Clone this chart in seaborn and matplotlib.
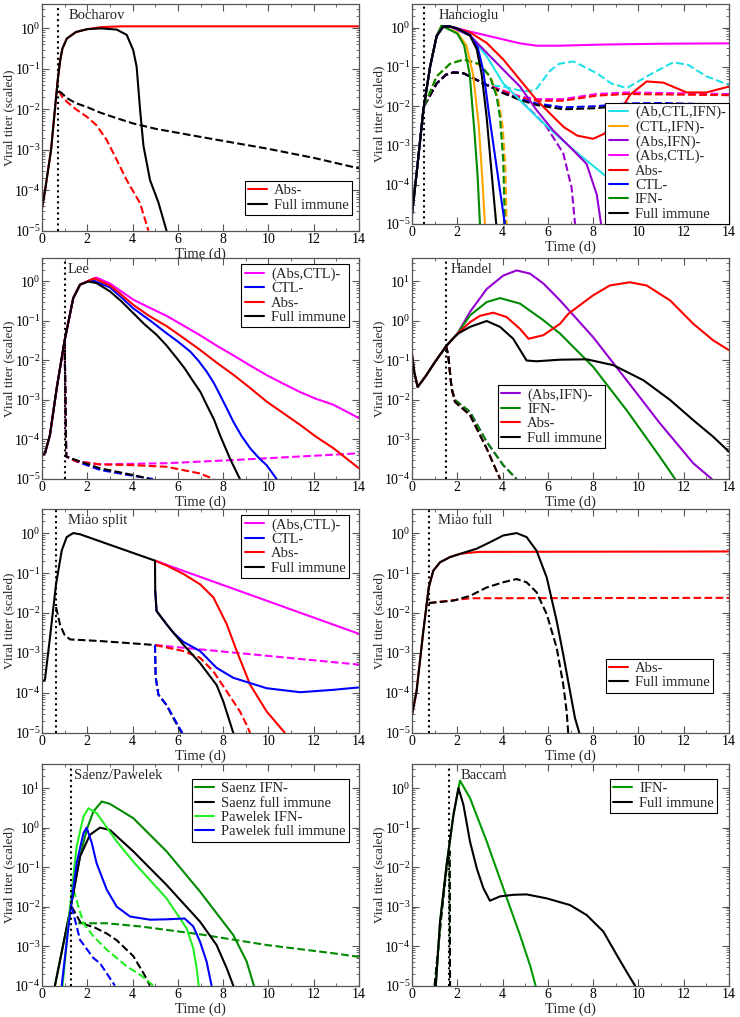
import numpy as np
import matplotlib
matplotlib.use("Agg")
import matplotlib.pyplot as plt
from matplotlib.ticker import MultipleLocator, LogLocator, NullFormatter
from matplotlib.lines import Line2D
import seaborn as sns

# ---------------- data (values are log10 of scaled viral titer) ----------------
# Bocharov
boch_full_t = [0, 0.15, 0.4, 0.69, 0.8, 0.9, 1.1, 1.5, 2.0, 2.6, 3.3, 3.74, 4.03, 4.18, 4.33, 4.48, 4.77, 5.14, 5.5]
boch_full_v = [-4.45, -3.95, -3.0, -1.3, -0.8, -0.5, -0.25, -0.09, -0.02, 0.0, -0.03, -0.16, -0.54, -0.95, -2.0, -2.9, -3.75, -4.3, -5.0]
boch_abs_t = [0, 0.15, 0.4, 0.69, 0.8, 0.9, 1.1, 1.5, 2.0, 2.6, 3.5, 14]
boch_abs_v = [-4.45, -3.95, -3.0, -1.3, -0.8, -0.5, -0.25, -0.09, -0.02, 0.03, 0.05, 0.05]
boch_full_dt = [0.75, 0.87, 1.09, 1.5, 1.97, 2.56, 3.3, 4.03, 5.0, 6.98, 8.5, 9.93, 12.0, 14]
boch_full_dv = [-1.55, -1.6, -1.72, -1.85, -1.94, -2.08, -2.22, -2.35, -2.48, -2.68, -2.83, -2.97, -3.2, -3.46]
boch_abs_dt = [0.75, 0.9, 1.09, 1.5, 1.97, 2.4, 2.86, 3.3, 3.74, 4.33, 4.7]
boch_abs_dv = [-1.55, -1.7, -1.81, -2.0, -2.18, -2.39, -2.76, -3.25, -3.75, -4.32, -5.0]

# Hancioglu
han_rise_t = [0, 0.2, 0.5, 0.8, 1.09, 1.38, 1.68]
han_rise_v = [-4.75, -3.73, -2.1, -0.99, -0.21, 0.03, 0.03]
han_full_t = [2.0, 2.56, 2.86, 3.08, 3.3, 3.5, 3.72]
han_full_v = [-0.02, -0.2, -0.55, -1.2, -2.3, -3.6, -5.0]
han_ctl_t = [2.0, 2.56, 2.9, 3.15, 3.4, 3.7, 4.1]
han_ctl_v = [-0.02, -0.18, -0.5, -1.1, -2.2, -3.4, -5.0]
han_ifn_t = [1.3, 2.0, 2.3, 2.55, 2.75, 2.9, 3.0]
han_ifn_v = [0.05, -0.15, -0.45, -1.2, -2.6, -3.8, -5.0]
han_ctlifn_t = [1.3, 2.0, 2.4, 2.7, 2.95, 3.1, 3.22]
han_ctlifn_v = [0.04, -0.12, -0.45, -1.2, -2.5, -3.8, -5.0]
han_all_t = [2.56, 3.3, 4.03, 5.5, 6.98, 8.45, 9.92, 10.66, 11.1]
han_all_v = [-0.2, -0.73, -1.42, -2.27, -3.04, -3.73, -4.42, -4.76, -5.0]
han_abs_t = [2.56, 3.3, 4.03, 4.77, 5.5, 6.24, 6.7, 7.3, 8.0, 8.5, 9.04, 9.63, 10.36, 11.1, 12.13, 13.0, 14]
han_abs_v = [-0.12, -0.39, -0.81, -1.33, -1.84, -2.27, -2.53, -2.75, -2.83, -2.7, -2.27, -1.71, -1.37, -1.4, -1.65, -1.65, -1.5]
han_absctl_t = [2.56, 3.3, 4.03, 4.77, 5.5, 6.5, 8.45, 11.0, 14]
han_absctl_v = [-0.1, -0.2, -0.3, -0.4, -0.46, -0.46, -0.43, -0.41, -0.4]
han_absifn_t = [2.56, 3.3, 4.03, 4.77, 5.5, 6.24, 6.98, 7.71, 8.16, 8.35]
han_absifn_v = [-0.2, -0.64, -1.07, -1.5, -2.1, -2.62, -3.04, -3.47, -4.25, -5.0]
han_d_early_t = [0.53, 1.09, 1.5, 1.83, 2.27, 3.3]
han_d_early_v = [-2.0, -1.42, -1.2, -1.14, -1.16, -1.46]
han_full_dt = [4.03, 4.77, 5.5, 6.68, 8.16, 9.48, 11.0, 14]
han_full_dv = [-1.67, -1.84, -1.97, -2.08, -2.05, -1.97, -1.95, -2.0]
han_ctl_dt = [4.03, 4.77, 5.5, 6.68, 8.16, 9.48, 11.0, 14]
han_ctl_dv = [-1.66, -1.82, -1.93, -2.03, -2.0, -1.93, -1.92, -1.96]
han_absctl_dt = [4.03, 4.77, 5.5, 6.68, 8.16, 9.5, 14]
han_absctl_dv = [-1.6, -1.75, -1.82, -1.82, -1.69, -1.65, -1.69]
han_abs_dt = [4.03, 4.77, 5.5, 6.68, 8.16, 9.5, 14]
han_abs_dv = [-1.62, -1.78, -1.86, -1.86, -1.73, -1.69, -1.72]
han_absifn_dt = [4.03, 4.77, 5.5, 5.95, 6.68, 7.05, 7.2]
han_absifn_dv = [-1.62, -1.85, -2.25, -2.53, -3.2, -4.08, -5.0]
han_all_dt = [4.03, 4.77, 5.2, 5.51, 6.09, 6.5, 7.13, 8.16, 8.8, 9.48, 10.5, 11.54, 12.2, 13.0, 14]
han_all_dv = [-1.5, -1.6, -1.62, -1.55, -1.1, -0.92, -0.86, -1.16, -1.42, -1.54, -1.2, -0.88, -0.95, -1.24, -1.46]
han_ifn_dt = [0.53, 1.09, 1.68, 2.3, 3.0, 3.44, 3.74, 3.89, 4.03, 4.1]
han_ifn_dv = [-2.0, -1.24, -0.92, -0.81, -0.93, -1.24, -1.76, -2.3, -3.39, -5.0]
han_ctlifn_dt = [0.53, 1.09, 1.68, 2.3, 3.0, 3.5, 3.8, 4.0, 4.12, 4.18]
han_ctlifn_dv = [-2.0, -1.24, -0.92, -0.81, -0.95, -1.3, -1.8, -2.5, -3.5, -5.0]

# Lee
lee_rise_t = [0, 0.13, 0.35, 0.65, 0.99, 1.38, 1.68]
lee_rise_v = [-4.39, -4.35, -3.89, -2.7, -1.52, -0.42, -0.08]
lee_full_t = [2.05, 2.41, 3.0, 3.5, 4.03, 4.5, 5.06, 5.5, 5.95, 6.3, 6.68, 7.0, 7.27, 7.6, 7.86, 8.3, 8.74]
lee_full_v = [0.0, -0.04, -0.25, -0.5, -0.8, -1.07, -1.35, -1.62, -1.94, -2.2, -2.53, -2.8, -3.12, -3.5, -3.89, -4.48, -5.0]
lee_ctl_t = [2.2, 3.0, 3.5, 4.03, 4.8, 5.5, 6.0, 6.54, 6.9, 7.27, 7.6, 7.86, 8.15, 8.45, 8.8, 9.19, 9.6, 9.92, 10.36]
lee_ctl_v = [0.04, -0.15, -0.4, -0.68, -1.0, -1.31, -1.52, -1.77, -2.0, -2.28, -2.58, -2.87, -3.2, -3.55, -3.9, -4.22, -4.48, -4.65, -5.0]
lee_abs_t = [2.3, 3.0, 3.5, 4.03, 4.7, 5.5, 6.2, 6.98, 7.7, 8.45, 9.2, 9.92, 10.7, 11.4, 12.1, 12.87, 14]
lee_abs_v = [0.08, -0.1, -0.33, -0.59, -0.86, -1.13, -1.41, -1.73, -2.05, -2.36, -2.7, -3.04, -3.35, -3.63, -3.93, -4.22, -4.73]
lee_absctl_t = [2.4, 3.0, 3.5, 4.03, 4.7, 5.5, 6.2, 6.98, 7.7, 8.45, 9.2, 9.92, 10.7, 11.4, 12.1, 12.87, 14]
lee_absctl_v = [0.1, -0.05, -0.25, -0.46, -0.65, -0.87, -1.1, -1.36, -1.62, -1.87, -2.13, -2.37, -2.6, -2.8, -2.97, -3.12, -3.46]
lee_absctl_dt = [1.0, 1.07, 1.5, 2.56, 5.5, 8.45, 11.4, 14]
lee_absctl_dv = [-1.52, -4.43, -4.55, -4.63, -4.6, -4.52, -4.43, -4.35]
lee_abs_dt = [1.0, 1.07, 1.5, 2.56, 4.03, 5.5, 6.98, 7.57]
lee_abs_dv = [-1.52, -4.43, -4.55, -4.63, -4.65, -4.69, -4.86, -5.0]
lee_full_dt = [1.0, 1.07, 1.5, 2.56, 4.03, 4.77]
lee_full_dv = [-1.52, -4.43, -4.52, -4.73, -4.9, -5.0]
lee_ctl_dt = [1.0, 1.07, 1.5, 2.56, 4.03, 4.9]
lee_ctl_dv = [-1.52, -4.43, -4.55, -4.77, -4.92, -5.0]

# Handel
hdl_rise_t = [0, 0.1, 0.25, 0.6, 1.0, 1.53, 2.0]
hdl_rise_v = [-0.85, -1.3, -1.67, -1.4, -1.05, -0.62, -0.33]
hdl_full_t = [2.56, 3.3, 3.89, 4.47, 5.06, 5.5, 6.54, 7.72, 8.9, 10.22, 11.4, 12.42, 13.3, 14]
hdl_full_v = [-0.15, 0.0, -0.15, -0.45, -1.0, -1.02, -0.98, -0.97, -1.12, -1.5, -2.0, -2.51, -2.93, -3.31]
hdl_abs_t = [2.56, 3.0, 3.59, 4.18, 4.77, 5.15, 5.8, 6.54, 6.9, 8.0, 8.74, 9.62, 10.36, 11.4, 12.42, 13.3, 14]
hdl_abs_v = [-0.03, 0.13, 0.21, 0.1, -0.2, -0.45, -0.36, -0.07, 0.18, 0.65, 0.9, 0.98, 0.9, 0.52, -0.07, -0.49, -0.74]
hdl_ifn_t = [2.56, 3.3, 3.89, 4.77, 5.8, 6.54, 8.0, 9.48, 10.95, 11.62]
hdl_ifn_v = [0.14, 0.48, 0.58, 0.44, 0.02, -0.32, -1.16, -2.26, -3.44, -4.0]
hdl_absifn_t = [2.56, 3.3, 4.03, 4.62, 5.21, 5.8, 6.54, 8.0, 9.48, 10.95, 12.42, 13.24]
hdl_absifn_v = [0.23, 0.81, 1.15, 1.28, 1.2, 0.95, 0.52, -0.41, -1.5, -2.59, -3.6, -4.0]
hdl_full_dt = [1.5, 1.6, 1.75, 1.9, 2.56, 3.3, 3.89]
hdl_full_dv = [-0.62, -0.87, -1.71, -2.05, -2.38, -3.23, -4.0]
hdl_ifn_dt = [1.5, 1.6, 1.75, 1.9, 2.56, 3.3, 4.03, 4.62]
hdl_ifn_dv = [-0.62, -0.87, -1.71, -2.0, -2.3, -3.06, -3.65, -4.0]

# Miao split
ms_full_t = [0, 0.13, 0.35, 0.62, 0.87, 1.09, 1.38, 1.68, 4.99, 5.0, 5.06, 5.5, 5.8, 6.24, 6.98, 7.71, 8.0, 8.45]
ms_full_v = [-3.71, -3.67, -2.62, -1.28, -0.44, -0.1, 0.0, -0.03, -0.69, -1.44, -1.95, -2.28, -2.49, -2.79, -3.25, -3.8, -4.2, -5.0]
ms_abs_t = [4.99, 5.5, 6.24, 6.98, 7.57, 8.16, 8.6, 9.19, 9.92, 10.73]
ms_abs_v = [-0.69, -0.81, -1.02, -1.28, -1.61, -2.28, -2.95, -3.79, -4.46, -5.0]
ms_absctl_t = [4.99, 14]
ms_absctl_v = [-0.69, -2.52]
ms_ctl_t = [5.0, 5.06, 5.5, 5.8, 6.24, 6.98, 7.71, 8.45, 9.92, 11.4, 12.87, 14]
ms_ctl_v = [-1.44, -1.95, -2.28, -2.49, -2.72, -2.95, -3.37, -3.62, -3.88, -3.98, -3.92, -3.86]
ms_full_dt = [0.62, 0.8, 1.0, 1.24, 2.56, 4.03, 4.99, 5.02, 5.14, 5.5, 5.8, 6.17]
ms_full_dv = [-1.85, -2.3, -2.55, -2.66, -2.7, -2.76, -2.8, -3.6, -4.04, -4.3, -4.63, -5.0]
ms_ctl_dt = [4.99, 5.02, 5.14, 5.5, 5.8, 6.2]
ms_ctl_dv = [-2.8, -3.6, -4.04, -4.3, -4.6, -5.0]
ms_absctl_dt = [4.99, 14]
ms_absctl_dv = [-2.8, -3.29]
ms_abs_dt = [4.99, 6.24, 6.98, 7.57, 8.16, 8.74, 9.04, 9.19]
ms_abs_dv = [-2.8, -2.95, -3.12, -3.46, -3.96, -4.46, -4.8, -5.0]

# Miao full
mf_full_t = [0, 0.2, 0.5, 0.74, 0.94, 1.24, 1.68, 2.12, 2.86, 3.44, 4.03, 4.62, 5.06, 5.5, 5.95, 6.39, 6.68, 6.98, 7.2, 7.39]
mf_full_v = [-4.55, -3.96, -2.45, -1.36, -0.94, -0.73, -0.6, -0.52, -0.39, -0.23, -0.06, 0.0, -0.1, -0.44, -1.11, -2.2, -3.04, -3.96, -4.63, -5.0]
mf_abs_t = [0, 0.2, 0.5, 0.74, 0.94, 1.24, 1.68, 2.12, 2.56, 3.0, 14]
mf_abs_v = [-4.55, -3.96, -2.45, -1.36, -0.94, -0.73, -0.6, -0.52, -0.49, -0.47, -0.46]
mf_full_dt = [0.74, 1.83, 2.56, 3.3, 4.03, 4.62, 5.06, 5.5, 5.95, 6.39, 6.68, 6.83, 6.9]
mf_full_dv = [-1.75, -1.69, -1.57, -1.36, -1.23, -1.15, -1.23, -1.48, -2.03, -2.87, -3.79, -4.46, -5.0]
mf_abs_dt = [0.74, 2.56, 14]
mf_abs_dv = [-1.75, -1.63, -1.62]

# Saenz / Pawelek
sp_sfull_t = [0.57, 1.24, 1.68, 2.12, 2.56, 3.0, 4.03, 5.5, 6.98, 7.71, 8.16, 8.45]
sp_sfull_v = [-4.0, -2.1, -0.73, -0.18, 0.0, -0.06, -0.6, -1.45, -2.38, -2.97, -3.56, -4.0]
sp_sifn_t = [0.57, 1.24, 1.68, 1.97, 2.27, 2.64, 3.0, 4.03, 5.5, 6.98, 8.45, 9.04, 9.36]
sp_sifn_v = [-4.0, -2.1, -0.73, -0.06, 0.41, 0.66, 0.6, 0.24, -0.6, -1.62, -2.72, -3.39, -4.0]
sp_pifn_t = [0.91, 1.24, 1.53, 1.83, 2.05, 2.41, 3.3, 4.03, 5.5, 6.39, 6.68, 6.83, 6.92]
sp_pifn_v = [-4.0, -2.0, -0.48, 0.28, 0.49, 0.37, -0.35, -0.86, -1.79, -2.55, -3.05, -3.56, -4.0]
sp_pfull_t = [0.87, 1.24, 1.53, 1.83, 1.97, 2.2, 2.41, 2.86, 3.3, 3.89, 4.77, 5.5, 6.3, 6.68, 6.98, 7.27, 7.49]
sp_pfull_v = [-4.0, -2.16, -0.9, -0.14, 0.0, -0.39, -0.9, -1.57, -2.0, -2.25, -2.33, -2.32, -2.3, -2.5, -2.89, -3.39, -4.0]
sp_sifn_dt = [1.6, 2.86, 4.33, 6.98, 9.92, 12.87, 14]
sp_sifn_dv = [-2.42, -2.42, -2.5, -2.7, -2.97, -3.18, -3.27]
sp_sfull_dt = [1.31, 1.72, 2.3, 2.86, 3.3, 4.03, 4.5, 4.77]
sp_sfull_dv = [-2.0, -2.42, -2.52, -2.68, -2.85, -3.25, -3.7, -4.0]
sp_pifn_dt = [1.39, 1.83, 2.27, 2.86, 3.74, 4.4, 4.92]
sp_pifn_dv = [-1.57, -2.42, -2.75, -3.09, -3.51, -3.75, -4.0]
sp_pfull_dt = [1.31, 1.68, 2.27, 2.56, 3.22]
sp_pfull_dv = [-2.0, -2.84, -3.3, -3.43, -4.0]

# Baccam
bac_full_t = [1.05, 1.24, 1.53, 1.83, 2.05, 2.27, 2.56, 2.86, 3.15, 3.44, 3.89, 4.47, 5.06, 5.95, 6.98, 7.71, 8.45, 9.04, 9.48, 9.85]
bac_full_v = [-5.0, -3.38, -1.94, -0.68, 0.0, -0.42, -1.35, -2.03, -2.53, -2.85, -2.74, -2.7, -2.69, -2.79, -2.96, -3.21, -3.63, -4.22, -4.65, -5.0]
bac_ifn_t = [1.05, 1.24, 1.53, 1.83, 2.12, 2.56, 3.3, 4.03, 4.77, 5.21, 5.46]
bac_ifn_v = [-5.0, -3.38, -1.94, -0.68, 0.19, -0.25, -1.35, -2.53, -3.72, -4.48, -5.0]
bac_d_t = [1.0, 1.3, 1.55, 1.66, 1.68]
bac_d_v = [-5.0, -3.2, -1.9, -1.6, -5.0]

# ---------------- style ----------------
sns.set_theme(style="ticks")
plt.rcParams["font.family"] = ["Liberation Serif", "DejaVu Serif"]
plt.rcParams["mathtext.fontset"] = "custom"
plt.rcParams["mathtext.rm"] = "Liberation Serif"
plt.rcParams["mathtext.default"] = "regular"

RED = "#ff0000"; BLK = "#000000"; BLUE = "#0000ff"; DKGRN = "#008b00"
CYAN = "#20e0e8"; ORNG = "#ffa500"; PURP = "#9400d3"; MAG = "#ff00ff"; LTGRN = "#22ee22"

fig = plt.figure(figsize=(7.4, 10.17), dpi=100)
W, H = 740.0, 1017.0


def make_ax(l, t, r, b, ylim):
    ax = fig.add_axes([l / W, 1 - b / H, (r - l) / W, (b - t) / H])
    ax.set_yscale("log")
    ax.set_xlim(0, 14)
    ax.set_ylim(*ylim)
    ax.xaxis.set_major_locator(MultipleLocator(2))
    ax.xaxis.set_minor_locator(MultipleLocator(1))
    ax.yaxis.set_major_locator(LogLocator(base=10, numticks=20))
    ax.yaxis.set_minor_locator(LogLocator(base=10, subs=np.arange(2, 10), numticks=20))
    ax.yaxis.set_minor_formatter(NullFormatter())
    ax.tick_params(which="both", direction="in", top=True, right=True, labelsize=10,
                   color="#555555", labelcolor="black")
    ax.tick_params(which="major", length=5, width=0.8)
    ax.tick_params(which="minor", length=2.5, width=0.6)
    ax.tick_params(axis="x", pad=1.5)
    ax.tick_params(axis="y", pad=1)
    for s in ax.spines.values():
        s.set_color("#555555")
        s.set_linewidth(0.9)
    ax.set_xlabel("Time (d)", fontsize=10.5, labelpad=1)
    ax.set_ylabel("Viral titer (scaled)", fontsize=9.5)
    ax.yaxis.set_label_coords(-0.085, 0.5)
    return ax


def draw(ax, t, v, color, dashed=False):
    sns.lineplot(x=np.asarray(t, float), y=10.0 ** np.asarray(v, float), ax=ax,
                 color=color, lw=1.5, linestyle="--" if dashed else "-",
                 sort=False, estimator=None, legend=False)


def decorate(ax, vline, name, name_x, entries, **legkw):
    ax.axvline(vline, color="black", ls=":", lw=1.5)
    ax.text(name_x, 0.948, name, transform=ax.get_xaxis_transform(), fontsize=10.5,
            va="center", ha="left")
    handles = [Line2D([], [], color=c, lw=1.5) for _, c in entries]
    leg = ax.legend(handles, [n for n, _ in entries], fontsize=10.5, frameon=True,
                    fancybox=False, edgecolor="black", framealpha=1,
                    handlelength=1.3, handletextpad=0.5, labelspacing=0.08,
                    borderpad=0.22, borderaxespad=0, **legkw)
    leg.get_frame().set_linewidth(0.8)


# ---- Bocharov ----
ax = make_ax(42, 4, 359, 230.7, (1e-5, 4))
draw(ax, boch_abs_dt, boch_abs_dv, RED, True)
draw(ax, boch_full_dt, boch_full_dv, BLK, True)
draw(ax, boch_abs_t, boch_abs_v, RED)
draw(ax, boch_full_t, boch_full_v, BLK)
decorate(ax, 0.69, "Bocharov", 1.16, [("Abs-", RED), ("Full immune", BLK)],
         loc="lower right", bbox_to_anchor=(0.978, 0.07))

# ---- Hancioglu ----
ax = make_ax(412, 4, 729, 224, (1e-5, 4))
for dt, dv, c in [(han_all_dt, han_all_dv, CYAN), (han_absifn_dt, han_absifn_dv, PURP),
                  (han_absctl_dt, han_absctl_dv, MAG), (han_abs_dt, han_abs_dv, RED),
                  (han_ctl_dt, han_ctl_dv, BLUE), (han_full_dt, han_full_dv, BLK)]:
    draw(ax, han_d_early_t + dt, han_d_early_v + dv, c, True)
draw(ax, han_ctlifn_dt, han_ctlifn_dv, ORNG, True)
draw(ax, han_ifn_dt, han_ifn_dv, DKGRN, True)
draw(ax, han_rise_t + han_all_t, han_rise_v + han_all_v, CYAN)
draw(ax, han_rise_t + han_absctl_t, han_rise_v + han_absctl_v, MAG)
draw(ax, han_rise_t + han_abs_t, han_rise_v + han_abs_v, RED)
draw(ax, han_rise_t + han_absifn_t, han_rise_v + han_absifn_v, PURP)
draw(ax, han_rise_t[:5] + han_ctlifn_t, han_rise_v[:5] + han_ctlifn_v, ORNG)
draw(ax, han_rise_t[:5] + han_ifn_t, han_rise_v[:5] + han_ifn_v, DKGRN)
draw(ax, han_rise_t + han_ctl_t, han_rise_v + han_ctl_v, BLUE)
draw(ax, han_rise_t + han_full_t, han_rise_v + han_full_v, BLK)
decorate(ax, 0.53, "Hancioglu", 1.19,
         [("(Ab,CTL,IFN)-", CYAN), ("(CTL,IFN)-", ORNG), ("(Abs,IFN)-", PURP),
          ("(Abs,CTL)-", MAG), ("Abs-", RED), ("CTL-", BLUE), ("IFN-", DKGRN),
          ("Full immune", BLK)],
         loc="lower right", bbox_to_anchor=(1.0, 0.0))

# ---- Lee ----
ax = make_ax(42, 257.7, 359, 479, (1e-5, 4))
draw(ax, lee_absctl_dt, lee_absctl_dv, MAG, True)
draw(ax, lee_ctl_dt, lee_ctl_dv, BLUE, True)
draw(ax, lee_abs_dt, lee_abs_dv, RED, True)
draw(ax, lee_full_dt, lee_full_dv, BLK, True)
draw(ax, lee_rise_t + lee_absctl_t, lee_rise_v + lee_absctl_v, MAG)
draw(ax, lee_rise_t + lee_ctl_t, lee_rise_v + lee_ctl_v, BLUE)
draw(ax, lee_rise_t + lee_abs_t, lee_rise_v + lee_abs_v, RED)
draw(ax, lee_rise_t + lee_full_t, lee_rise_v + lee_full_v, BLK)
decorate(ax, 1.0, "Lee", 1.13,
         [("(Abs,CTL)-", MAG), ("CTL-", BLUE), ("Abs-", RED), ("Full immune", BLK)],
         loc="upper right", bbox_to_anchor=(0.968, 0.97))

# ---- Handel ----
ax = make_ax(412, 257.7, 729, 479, (1e-4, 40))
draw(ax, hdl_ifn_dt, hdl_ifn_dv, PURP, True)
draw(ax, hdl_ifn_dt, hdl_ifn_dv, DKGRN, True)
draw(ax, hdl_full_dt, hdl_full_dv, RED, True)
draw(ax, hdl_full_dt, hdl_full_dv, BLK, True)
draw(ax, hdl_rise_t + hdl_absifn_t, hdl_rise_v + hdl_absifn_v, PURP)
draw(ax, hdl_rise_t + hdl_ifn_t, hdl_rise_v + hdl_ifn_v, DKGRN)
draw(ax, hdl_rise_t + hdl_abs_t, hdl_rise_v + hdl_abs_v, RED)
draw(ax, hdl_rise_t + hdl_full_t, hdl_rise_v + hdl_full_v, BLK)
decorate(ax, 1.5, "Handel", 1.72,
         [("(Abs,IFN)-", PURP), ("IFN-", DKGRN), ("Abs-", RED), ("Full immune", BLK)],
         loc="lower left", bbox_to_anchor=(0.27, 0.14))

# ---- Miao split ----
ax = make_ax(42, 509, 359, 733, (1e-5, 4))
draw(ax, ms_absctl_dt, ms_absctl_dv, MAG, True)
draw(ax, ms_abs_dt, ms_abs_dv, RED, True)
draw(ax, ms_full_dt, ms_full_dv, BLK, True)
draw(ax, ms_ctl_dt, ms_ctl_dv, BLUE, True)
draw(ax, ms_absctl_t, ms_absctl_v, MAG)
draw(ax, ms_abs_t, ms_abs_v, RED)
draw(ax, ms_ctl_t, ms_ctl_v, BLUE)
draw(ax, ms_full_t, ms_full_v, BLK)
decorate(ax, 0.62, "Miao split", 1.16,
         [("(Abs,CTL)-", MAG), ("CTL-", BLUE), ("Abs-", RED), ("Full immune", BLK)],
         loc="upper right", bbox_to_anchor=(0.968, 0.973))

# ---- Miao full ----
ax = make_ax(412, 509, 729, 733, (1e-5, 4))
draw(ax, mf_abs_dt, mf_abs_dv, RED, True)
draw(ax, mf_full_dt, mf_full_dv, BLK, True)
draw(ax, mf_abs_t, mf_abs_v, RED)
draw(ax, mf_full_t, mf_full_v, BLK)
decorate(ax, 0.74, "Miao full", 1.16, [("Abs-", RED), ("Full immune", BLK)],
         loc="lower right", bbox_to_anchor=(0.95, 0.18))

# ---- Saenz / Pawelek ----
ax = make_ax(42, 764.3, 359, 985.7, (1e-4, 40))
draw(ax, sp_sifn_dt, sp_sifn_dv, DKGRN, True)
draw(ax, sp_sfull_dt, sp_sfull_dv, BLK, True)
draw(ax, sp_pifn_dt, sp_pifn_dv, LTGRN, True)
draw(ax, sp_pfull_dt, sp_pfull_dv, BLUE, True)
draw(ax, sp_sifn_t, sp_sifn_v, DKGRN)
draw(ax, sp_sfull_t, sp_sfull_v, BLK)
draw(ax, sp_pifn_t, sp_pifn_v, LTGRN)
draw(ax, sp_pfull_t, sp_pfull_v, BLUE)
decorate(ax, 1.28, "Saenz/Pawelek", 1.41,
         [("Saenz IFN-", DKGRN), ("Saenz full immune", BLK), ("Pawelek IFN-", LTGRN),
          ("Pawelek full immune", BLUE)],
         loc="upper right", bbox_to_anchor=(0.968, 0.934))

# ---- Baccam ----
ax = make_ax(412, 764.3, 729, 985.7, (1e-5, 4))
draw(ax, bac_d_t, bac_d_v, "#009900", True)
draw(ax, bac_d_t, bac_d_v, BLK, True)
draw(ax, bac_ifn_t, bac_ifn_v, "#009900")
draw(ax, bac_full_t, bac_full_v, BLK)
decorate(ax, 1.62, "Baccam", 2.15, [("IFN-", "#009900"), ("Full immune", BLK)],
         loc="upper right", bbox_to_anchor=(0.962, 0.934))

fig.savefig("out.png", dpi=100)
